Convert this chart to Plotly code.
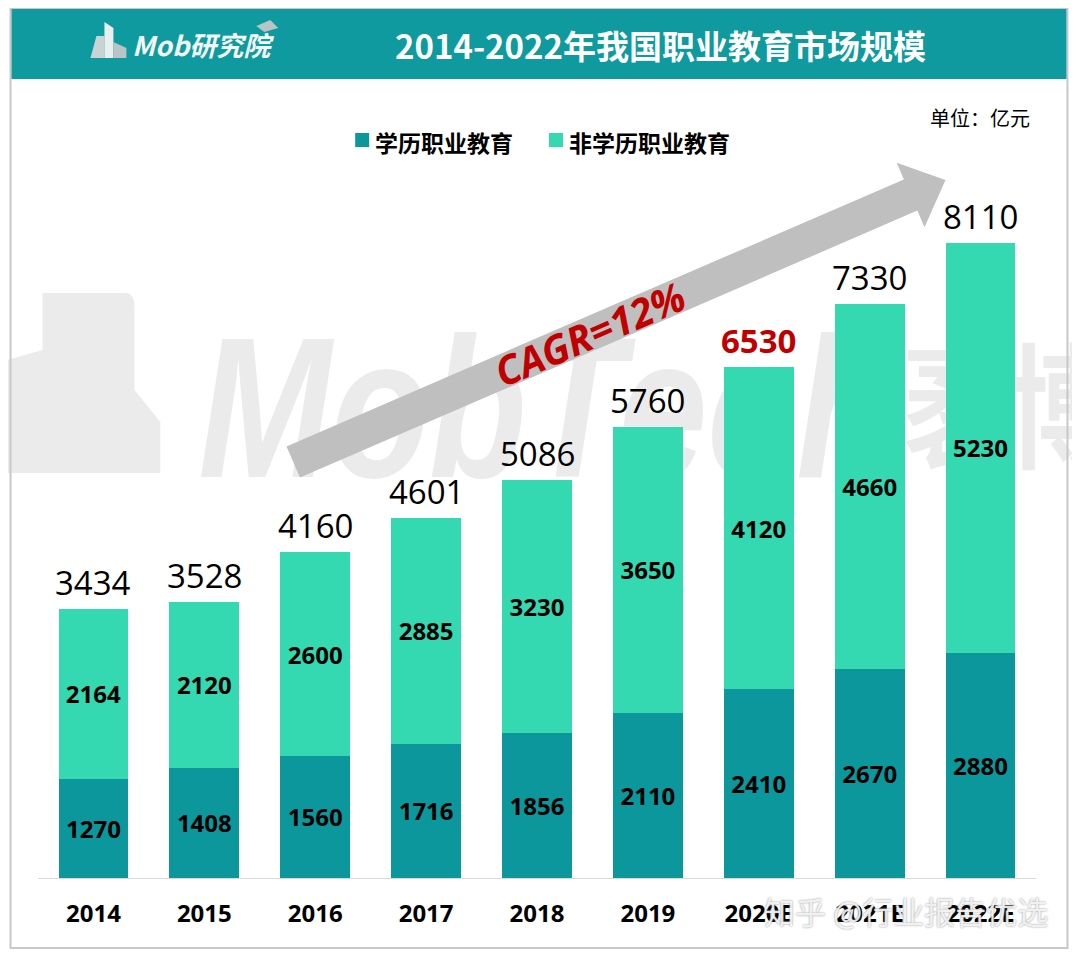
import math
import base64
import plotly.graph_objects as go

years = ["2014", "2015", "2016", "2017", "2018", "2019", "2020E", "2021E", "2022E"]
academic = [1270, 1408, 1560, 1716, 1856, 2110, 2410, 2670, 2880]
non_academic = [2164, 2120, 2600, 2885, 3230, 3650, 4120, 4660, 5230]
totals = [3434, 3528, 4160, 4601, 5086, 5760, 6530, 7330, 8110]
highlight_index = 6
series_names = ["学历职业教育", "非学历职业教育"]
title_text = "2014-2022年我国职业教育市场规模"
unit_text = "单位：亿元"
cagr_text = "CAGR=12%"

W, H = 1080, 955
OFF = 8  # page body margin
L, R, T, B = 37.5 - OFF, 1080 - (1036.5 - OFF), 200 - OFF, 955 - (878 - OFF)
PW, PH = W - L - R, H - T - B


def px(x):
    return (x - OFF - L) / PW


def py(y):
    return (H - B - (y - OFF)) / PH


DARK = "#0C979C"
LIGHT = "#34D9B1"
series_colors = [DARK, LIGHT]
CJK = "Noto Sans CJK SC"
NUM = "Open Sans, Noto Sans CJK SC"

fig = go.Figure()
for name, vals, col in zip(series_names, [academic, non_academic], series_colors):
    fig.add_trace(go.Bar(
        x=years, y=vals, name=name, marker=dict(color=col, line=dict(width=0)),
        text=[str(v) for v in vals], textposition="inside", insidetextanchor="middle",
        textfont=dict(family=NUM, size=24, color="black", weight="bold"), textangle=0,
        showlegend=False,
    ))

shapes = []
annotations = []

# totals above bars (category index positions on the x axis)
for i, tv in enumerate(totals):
    hl = i == highlight_index
    annotations.append(dict(
        x=i, y=tv, xref="x", yref="y", xanchor="center", yanchor="bottom", yshift=2,
        text=f"<b>{tv}</b>" if hl else str(tv), showarrow=False,
        font=dict(family=NUM, size=33, color="#C00000" if hl else "black"),
    ))

# legend (custom: square + label)
legend_sq_x = [355, 549]
for name, col, sx in zip(series_names, series_colors, legend_sq_x):
    shapes.append(dict(type="rect", xref="paper", yref="paper", x0=px(sx), x1=px(sx + 14),
                       y0=py(147), y1=py(133), fillcolor=col, line=dict(width=0)))
    annotations.append(dict(xref="paper", yref="paper", x=px(sx + 18), y=py(142), xanchor="left",
                            yanchor="middle", text=f"<b>{name}</b>", showarrow=False,
                            font=dict(family=CJK, size=23, color="black")))

# outer frame
shapes.append(dict(type="rect", xref="paper", yref="paper", x0=px(10), x1=px(1068), y0=py(948), y1=py(8),
                   line=dict(color="#C8C8C8", width=2), fillcolor="rgba(0,0,0,0)", layer="below"))
# header band
shapes.append(dict(type="rect", xref="paper", yref="paper", x0=px(11), x1=px(1067), y0=py(79), y1=py(9),
                   line=dict(width=0), fillcolor="#0E9A9F", layer="above"))
# logo blocks in header
shapes.append(dict(type="path", xref="paper", yref="paper", layer="above",
                   path=f"M {px(90)} {py(58)} L {px(96)} {py(36)} L {px(104)} {py(36)} L {px(104)} {py(58)} Z",
                   fillcolor="#C9D3D4", line=dict(width=0)))
shapes.append(dict(type="path", xref="paper", yref="paper", layer="above",
                   path=f"M {px(104)} {py(58)} L {px(104)} {py(22)} L {px(113)} {py(28)} L {px(113)} {py(58)} Z",
                   fillcolor="#E9EEEE", line=dict(width=0)))
shapes.append(dict(type="path", xref="paper", yref="paper", layer="above",
                   path=f"M {px(113)} {py(58)} L {px(113)} {py(42)} L {px(126)} {py(48)} L {px(126)} {py(58)} Z",
                   fillcolor="#B8C4C6", line=dict(width=0)))
shapes.append(dict(type="path", xref="paper", yref="paper", layer="above",
                   path=f"M {px(256)} {py(26)} L {px(270)} {py(20)} L {px(278)} {py(28)} L {px(264)} {py(32)} Z",
                   fillcolor="#B8C4C6", line=dict(width=0)))
annotations.append(dict(xref="paper", yref="paper", x=px(130), y=py(44), xanchor="left", yanchor="middle",
                        text="<b><i>Mob研究院</i></b>", showarrow=False,
                        font=dict(family=CJK, size=27, color="#F2F6F6")))
annotations.append(dict(xref="paper", yref="paper", x=px(661), y=py(45), xanchor="center", yanchor="middle",
                        text=f"<b>{title_text}</b>", showarrow=False,
                        font=dict(family=CJK, size=33, color="white")))

# background watermark (below bars) as an SVG image; region y 262..502, x 0..1080
svg = (
    '<svg xmlns="http://www.w3.org/2000/svg" width="1080" height="240" viewBox="0 0 1080 240">'
    '<path d="M 0 211 L 0 100 L 42 88 L 42 31 L 125 31 Q 134 31 134 45 L 134 128 L 160 160 L 160 211 Z" '
    'fill="#EBEBEB"/>'
    '<g transform="translate(198,215) scale(0.8,1)">'
    '<text x="0" y="0" font-family="Liberation Sans" font-weight="bold" font-style="italic" '
    'font-size="200" fill="#EBEBEB">MobTech</text></g>'
    '<g transform="translate(903,196) scale(0.78,1)">'
    '<text x="0" y="0" font-family="Noto Sans CJK SC" font-weight="bold" '
    'font-size="135" fill="#EBEBEB">袤博</text></g>'
    '</svg>'
)
src = "data:image/svg+xml;base64," + base64.b64encode(svg.encode("utf-8")).decode("ascii")
images = [dict(source=src, xref="paper", yref="paper", x=px(0), y=py(262), sizex=px(1080) - px(0),
               sizey=py(262) - py(502), xanchor="left", yanchor="top", sizing="stretch", layer="below")]

# unit
annotations.append(dict(xref="paper", yref="paper", x=px(1032), y=py(117), xanchor="right", yanchor="middle",
                        text=unit_text, showarrow=False, font=dict(family=CJK, size=20, color="black")))

# trend arrow
ax0, ay0 = 293, 462
bx, by = 911, 195
dx, dy = bx - ax0, by - ay0
ln = math.hypot(dx, dy)
ux, uy = dx / ln, dy / ln
nx, ny = -uy, ux
hw, headw, headl = 17, 35, 38
tx, ty = bx + ux * headl, by + uy * headl
pts = [
    (ax0 + nx * hw, ay0 + ny * hw),
    (bx + nx * hw, by + ny * hw),
    (bx + nx * headw, by + ny * headw),
    (tx, ty),
    (bx - nx * headw, by - ny * headw),
    (bx - nx * hw, by - ny * hw),
    (ax0 - nx * hw, ay0 - ny * hw),
]
path = "M " + " L ".join(f"{px(a)} {py(b)}" for a, b in pts) + " Z"
shapes.append(dict(type="path", xref="paper", yref="paper", path=path, fillcolor="#BFBFBF",
                   line=dict(width=0), layer="below"))
ang = math.degrees(math.atan2(dy, dx))
annotations.append(dict(xref="paper", yref="paper", x=px(590), y=py(333), xanchor="center", yanchor="middle",
                        text=f"<b><i>{cagr_text}</i></b>", showarrow=False, textangle=ang,
                        font=dict(family=NUM, size=40, color="#C00000")))

# site watermark
annotations.append(dict(xref="paper", yref="paper", x=px(906), y=py(910), xanchor="center", yanchor="middle",
                        text="知乎 @行业报告优选", showarrow=False,
                        font=dict(family=CJK, size=31, color="rgba(255,255,255,0.85)",
                                  shadow="0px 0px 2px #777")))

fig.update_layout(
    width=W, height=H,
    margin=dict(l=L, r=R, t=T, b=B, pad=0),
    paper_bgcolor="white", plot_bgcolor="rgba(0,0,0,0)",
    barmode="stack", bargap=0.37,
    font=dict(family=CJK, color="black"),
    showlegend=False,
    xaxis=dict(range=[-0.5, 8.5], showgrid=False, zeroline=False, showline=True, linecolor="#D9D9D9",
               linewidth=1, ticks="", tickfont=dict(family=NUM, size=24, color="black", weight="bold"),
               ticklabelstandoff=14),
    yaxis=dict(range=[0, PH / 0.0783], visible=False, showgrid=False, zeroline=False),
    shapes=shapes, annotations=annotations, images=images,
)

fig.write_html("out.html")
